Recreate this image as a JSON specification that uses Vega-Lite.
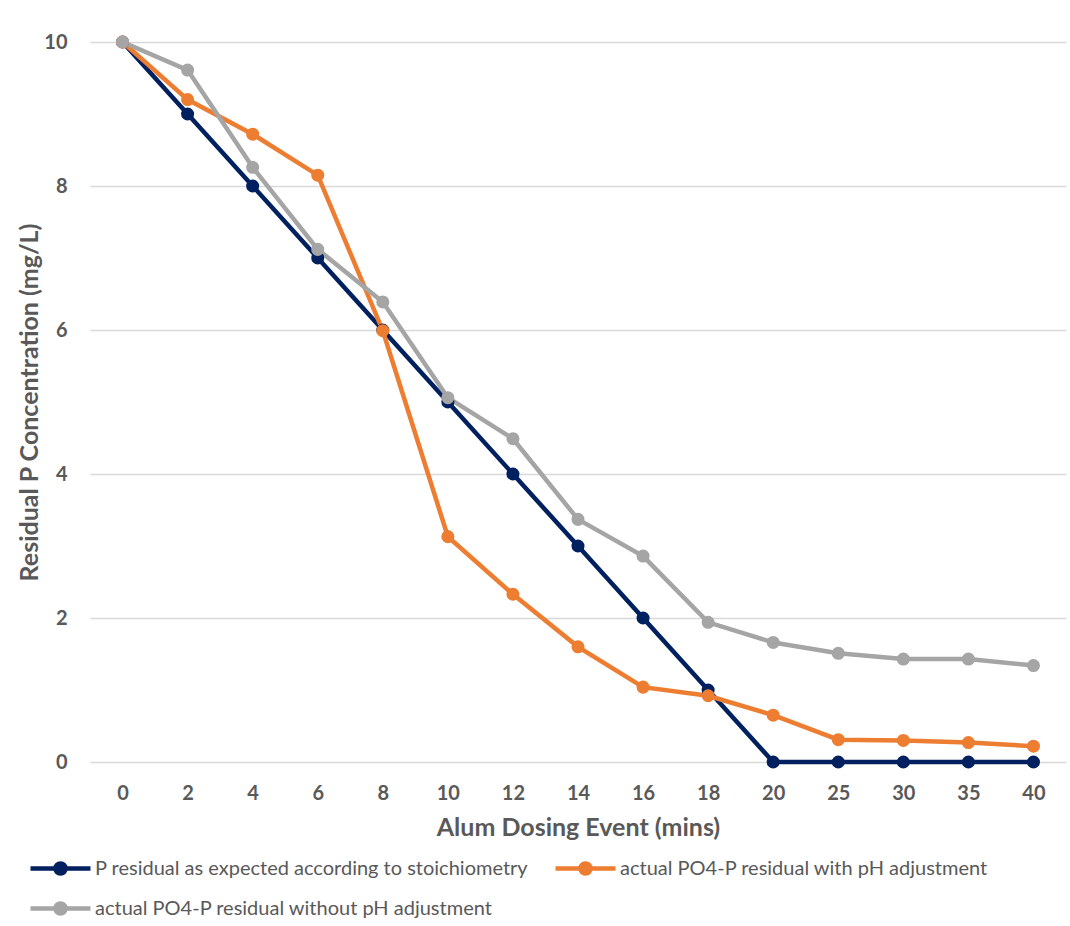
{
  "$schema": "https://vega.github.io/schema/vega-lite/v6.json",
  "autosize": "none",
  "width": 976,
  "height": 720,
  "padding": {"left": 90, "top": 42, "right": 4, "bottom": 164},
  "background": "white",
  "config": {
    "font": "Lato",
    "view": {"stroke": null},
    "axis": {"labelColor": "#595959", "titleColor": "#595959", "labelFont": "Lato", "titleFont": "Lato"}
  },
  "data": {
    "values": [
      {"s": "P residual as expected according to stoichiometry", "t": "0", "v": 10},
      {"s": "P residual as expected according to stoichiometry", "t": "2", "v": 9},
      {"s": "P residual as expected according to stoichiometry", "t": "4", "v": 8},
      {"s": "P residual as expected according to stoichiometry", "t": "6", "v": 7},
      {"s": "P residual as expected according to stoichiometry", "t": "8", "v": 6},
      {"s": "P residual as expected according to stoichiometry", "t": "10", "v": 5},
      {"s": "P residual as expected according to stoichiometry", "t": "12", "v": 4},
      {"s": "P residual as expected according to stoichiometry", "t": "14", "v": 3},
      {"s": "P residual as expected according to stoichiometry", "t": "16", "v": 2},
      {"s": "P residual as expected according to stoichiometry", "t": "18", "v": 1},
      {"s": "P residual as expected according to stoichiometry", "t": "20", "v": 0},
      {"s": "P residual as expected according to stoichiometry", "t": "25", "v": 0},
      {"s": "P residual as expected according to stoichiometry", "t": "30", "v": 0},
      {"s": "P residual as expected according to stoichiometry", "t": "35", "v": 0},
      {"s": "P residual as expected according to stoichiometry", "t": "40", "v": 0},
      {"s": "actual PO4-P residual with pH adjustment", "t": "0", "v": 10},
      {"s": "actual PO4-P residual with pH adjustment", "t": "2", "v": 9.2},
      {"s": "actual PO4-P residual with pH adjustment", "t": "4", "v": 8.72},
      {"s": "actual PO4-P residual with pH adjustment", "t": "6", "v": 8.15},
      {"s": "actual PO4-P residual with pH adjustment", "t": "8", "v": 5.99},
      {"s": "actual PO4-P residual with pH adjustment", "t": "10", "v": 3.13},
      {"s": "actual PO4-P residual with pH adjustment", "t": "12", "v": 2.33},
      {"s": "actual PO4-P residual with pH adjustment", "t": "14", "v": 1.6},
      {"s": "actual PO4-P residual with pH adjustment", "t": "16", "v": 1.04},
      {"s": "actual PO4-P residual with pH adjustment", "t": "18", "v": 0.92},
      {"s": "actual PO4-P residual with pH adjustment", "t": "20", "v": 0.65},
      {"s": "actual PO4-P residual with pH adjustment", "t": "25", "v": 0.31},
      {"s": "actual PO4-P residual with pH adjustment", "t": "30", "v": 0.3},
      {"s": "actual PO4-P residual with pH adjustment", "t": "35", "v": 0.27},
      {"s": "actual PO4-P residual with pH adjustment", "t": "40", "v": 0.22},
      {"s": "actual PO4-P residual without pH adjustment", "t": "0", "v": 10},
      {"s": "actual PO4-P residual without pH adjustment", "t": "2", "v": 9.61},
      {"s": "actual PO4-P residual without pH adjustment", "t": "4", "v": 8.26},
      {"s": "actual PO4-P residual without pH adjustment", "t": "6", "v": 7.12},
      {"s": "actual PO4-P residual without pH adjustment", "t": "8", "v": 6.39},
      {"s": "actual PO4-P residual without pH adjustment", "t": "10", "v": 5.06},
      {"s": "actual PO4-P residual without pH adjustment", "t": "12", "v": 4.49},
      {"s": "actual PO4-P residual without pH adjustment", "t": "14", "v": 3.37},
      {"s": "actual PO4-P residual without pH adjustment", "t": "16", "v": 2.86},
      {"s": "actual PO4-P residual without pH adjustment", "t": "18", "v": 1.94},
      {"s": "actual PO4-P residual without pH adjustment", "t": "20", "v": 1.66},
      {"s": "actual PO4-P residual without pH adjustment", "t": "25", "v": 1.51},
      {"s": "actual PO4-P residual without pH adjustment", "t": "30", "v": 1.43},
      {"s": "actual PO4-P residual without pH adjustment", "t": "35", "v": 1.43},
      {"s": "actual PO4-P residual without pH adjustment", "t": "40", "v": 1.34}
    ]
  },
  "mark": {"type": "line", "strokeWidth": 4.5, "point": {"filled": true, "size": 170, "opacity": 1}},
  "encoding": {
    "x": {
      "field": "t", "type": "ordinal",
      "sort": ["0","2","4","6","8","10","12","14","16","18","20","25","30","35","40"],
      "scale": {"type": "point", "padding": 0.5},
      "axis": {
        "title": "Alum Dosing Event (mins)", "labelAngle": 0, "labelFontSize": 20, "labelFontWeight": "bold",
        "labelPadding": 21, "ticks": false, "domain": false, "grid": false,
        "titleFontSize": 25, "titleFontWeight": "bold", "titlePadding": 12
      }
    },
    "y": {
      "field": "v", "type": "quantitative",
      "scale": {"domain": [0, 10]},
      "axis": {
        "title": "Residual P Concentration (mg/L)", "values": [0,2,4,6,8,10], "labelFontSize": 20, "labelFontWeight": "bold",
        "labelPadding": 23, "ticks": false, "domain": false, "grid": true, "gridColor": "#d9d9d9", "gridWidth": 1.3,
        "titleFontSize": 25, "titleFontWeight": "bold", "titleX": -48
      }
    },
    "color": {
      "field": "s", "type": "nominal",
      "scale": {
        "domain": ["P residual as expected according to stoichiometry", "actual PO4-P residual with pH adjustment", "actual PO4-P residual without pH adjustment"],
        "range": ["#002060", "#ED7D31", "#A5A5A5"]
      },
      "legend": {
        "title": null, "orient": "none", "legendX": -62, "legendY": 814, "direction": "horizontal", "columns": 2,
        "columnPadding": 24, "rowPadding": 15, "clipHeight": 25,
        "symbolType": "M-1,0L1,0M-0.17,0A0.17,0.17,0,1,1,0.17,0A0.17,0.17,0,1,1,-0.17,0Z",
        "symbolSize": 3600, "symbolStrokeWidth": 4.5, "labelFontSize": 20, "labelColor": "#595959", "labelOffset": 2,
        "labelLimit": 600,
        "encode": {"symbols": {"update": {"fill": {"scale": "color", "field": "value"}, "fillOpacity": {"value": 1}}}}
      }
    }
  }
}
